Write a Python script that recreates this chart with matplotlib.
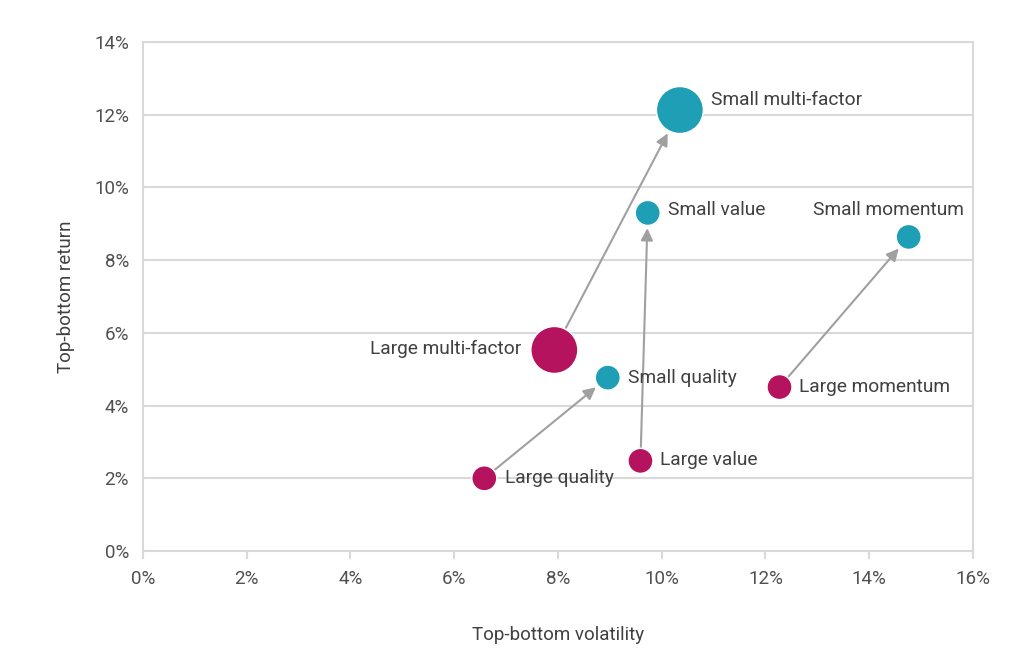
import matplotlib
matplotlib.use("Agg")
import matplotlib.pyplot as plt
from matplotlib.ticker import FuncFormatter, MultipleLocator

plt.rcParams['font.family'] = ['Roboto', 'DejaVu Sans']

names = ["Large multi-factor", "Small multi-factor", "Large quality", "Small quality",
         "Large value", "Small value", "Large momentum", "Small momentum"]
volatility = [7.93, 10.35, 6.58, 8.96, 9.59, 9.73, 12.27, 14.76]
ret = [5.53, 12.13, 2.00, 4.77, 2.48, 9.30, 4.51, 8.64]
group = ["Large", "Small", "Large", "Small", "Large", "Small", "Large", "Small"]
big = [True, True, False, False, False, False, False, False]
pairs = [(0, 1), (2, 3), (4, 5), (6, 7)]

TEAL = "#1f9fb5"
MAGENTA = "#b5135e"
GRID = "#d9d9d9"
TXT = "#404040"

# label offsets in pixels (dx, dy) and alignment
label_pos = {
    "Large multi-factor": (-33, 1, "right"),
    "Small multi-factor": (31, 10, "left"),
    "Large quality": (21, 0, "left"),
    "Small quality": (20, 0, "left"),
    "Large value": (20, 1, "left"),
    "Small value": (20, 3, "left"),
    "Large momentum": (20, 0, "left"),
    "Small momentum": (-20, 27, "center"),
}

fig = plt.figure(figsize=(10.24, 6.57), dpi=100)
ax = fig.add_axes([0.1396, 0.1613, 0.9502 - 0.1396, 0.936 - 0.1613])

ax.set_xlim(0, 16)
ax.set_ylim(0, 14)

sizes = [1145 if b else 324 for b in big]
radii_pt = [(s ** 0.5) / 2 for s in sizes]

for a, b in pairs:
    ax.annotate("", xy=(volatility[b], ret[b]), xytext=(volatility[a], ret[a]),
                arrowprops=dict(arrowstyle="-|>", color="#a0a0a0", lw=1.5,
                                mutation_scale=18,
                                shrinkA=radii_pt[a] + 1, shrinkB=radii_pt[b] + 2),
                zorder=2)

colors = [TEAL if g == "Small" else MAGENTA for g in group]
ax.scatter(volatility, ret, s=sizes, c=colors, edgecolors="white", linewidths=1, zorder=3)

for i, n in enumerate(names):
    dx, dy, ha = label_pos[n]
    ax.annotate(n, (volatility[i], ret[i]), xytext=(dx, dy), textcoords="offset pixels",
                ha=ha, va="center", fontsize=13.8, color=TXT, zorder=4)

ax.yaxis.set_major_locator(MultipleLocator(2))
ax.xaxis.set_major_locator(MultipleLocator(2))
fmt = FuncFormatter(lambda v, p: f"{v:.0f}%")
ax.xaxis.set_major_formatter(fmt)
ax.yaxis.set_major_formatter(fmt)

ax.grid(axis="y", color=GRID, lw=1.5, zorder=0)
ax.set_axisbelow(True)
for sp in ax.spines.values():
    sp.set_color(GRID)
    sp.set_linewidth(1.5)

ax.tick_params(axis="x", length=6, width=1.5, color=GRID, labelsize=13.5, labelcolor="#505050", pad=8)
ax.tick_params(axis="y", length=0, labelsize=13.5, labelcolor="#505050", pad=10)

ax.set_xlabel("Top-bottom volatility", fontsize=13.5, color=TXT, labelpad=27)
ax.set_ylabel("Top-bottom return", fontsize=13.5, color=TXT, labelpad=14)

fig.savefig("out.png", dpi=100)
